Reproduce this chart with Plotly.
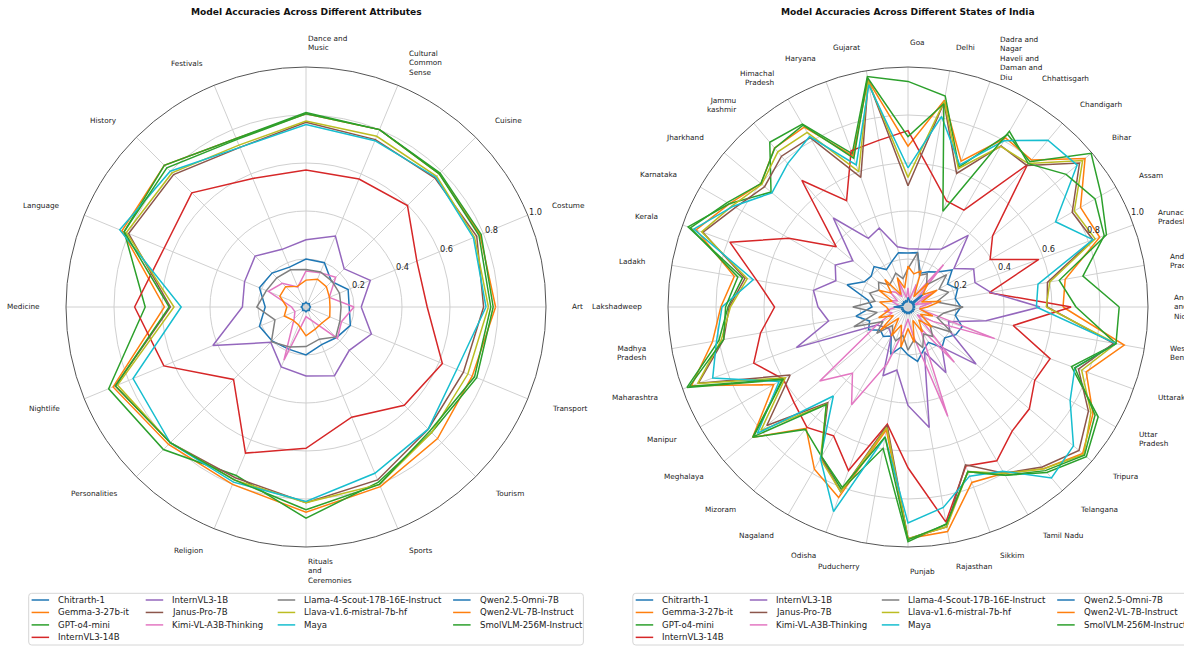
import math
import textwrap
import plotly.graph_objects as go

W, H = 1184, 646

models = ["Chitrarth-1", "Gemma-3-27b-it", "GPT-o4-mini", "InternVL3-14B", "InternVL3-1B",
          "Janus-Pro-7B", "Kimi-VL-A3B-Thinking", "Llama-4-Scout-17B-16E-Instruct",
          "Llava-v1.6-mistral-7b-hf", "Maya", "Qwen2.5-Omni-7B", "Qwen2-VL-7B-Instruct",
          "SmolVLM-256M-Instruct"]
colors = ["#1f77b4", "#ff7f0e", "#2ca02c", "#d62728", "#9467bd", "#8c564b", "#e377c2",
          "#7f7f7f", "#bcbd22", "#17becf", "#1f77b4", "#ff7f0e", "#2ca02c"]

attributes = ["Art", "Costume", "Cuisine", "Cultural Common Sense", "Dance and Music", "Festivals",
              "History", "Language", "Medicine", "Nightlife", "Personalities", "Religion",
              "Rituals and Ceremonies", "Sports", "Tourism", "Transport"]

states = ["Andaman and Nicobar", "Andhra Pradesh", "Arunachal Pradesh", "Assam", "Bihar", "Chandigarh",
          "Chhattisgarh", "Dadra and Nagar Haveli and Daman and Diu", "Delhi", "Goa", "Gujarat",
          "Haryana", "Himachal Pradesh", "Jammu kashmir", "Jharkhand", "Karnataka", "Kerala", "Ladakh",
          "Lakshadweep", "Madhya Pradesh", "Maharashtra", "Manipur", "Meghalaya", "Mizoram", "Nagaland",
          "Odisha", "Puducherry", "Punjab", "Rajasthan", "Sikkim", "Tamil Nadu", "Telangana", "Tripura",
          "Uttar Pradesh", "Uttarakhand", "West Bengal"]

radial_ticks = [0.2, 0.4, 0.6, 0.8, 1.0]

# ---- accuracy per attribute ----
attr_chitrarth = [0.18, 0.19, 0.15, 0.20, 0.20, 0.18, 0.20, 0.21, 0.17, 0.21, 0.20, 0.19, 0.20, 0.17, 0.18, 0.20]
attr_gemma = [0.79, 0.785, 0.785, 0.80, 0.805, 0.76, 0.835, 0.83, 0.59, 0.87, 0.81, 0.80, 0.855, 0.81, 0.775, 0.75]
attr_gpt = [0.78, 0.79, 0.79, 0.80, 0.81, 0.76, 0.835, 0.82, 0.67, 0.89, 0.84, 0.76, 0.88, 0.79, 0.74, 0.77]
attr_internvl14 = [0.505, 0.50, 0.598, 0.577, 0.571, 0.58, 0.673, 0.64, 0.714, 0.641, 0.427, 0.659, 0.589, 0.497, 0.579, 0.615]
attr_internvl1 = [0.23, 0.29, 0.225, 0.32, 0.28, 0.26, 0.30, 0.277, 0.265, 0.42, 0.208, 0.27, 0.287, 0.31, 0.255, 0.295]
attr_janus = [0.74, 0.77, 0.76, 0.755, 0.77, 0.72, 0.78, 0.80, 0.565, 0.86, 0.80, 0.77, 0.815, 0.78, 0.72, 0.71]
attr_kimi = [0.20, 0.105, 0.175, 0.155, 0.15, 0.09, 0.14, 0.17, 0.06, 0.05, 0.07, 0.24, 0.04, 0.06, 0.185, 0.16]
attr_llama = [0.146, 0.151, 0.153, 0.158, 0.156, 0.168, 0.172, 0.179, 0.205, 0.14, 0.204, 0.18, 0.165, 0.145, 0.176, 0.153]
attr_llava = [0.76, 0.76, 0.77, 0.77, 0.775, 0.73, 0.79, 0.81, 0.55, 0.85, 0.80, 0.78, 0.815, 0.80, 0.74, 0.73]
attr_maya = [0.75, 0.755, 0.765, 0.75, 0.76, 0.72, 0.80, 0.84, 0.52, 0.78, 0.80, 0.79, 0.81, 0.75, 0.72, 0.68]
attr_qwen_omni = [0.02, 0.015, 0.02, 0.015, 0.02, 0.015, 0.02, 0.015, 0.02, 0.015, 0.02, 0.015, 0.02, 0.015, 0.02, 0.015]
attr_qwen_vl = [0.10, 0.106, 0.12, 0.125, 0.112, 0.093, 0.12, 0.118, 0.08, 0.098, 0.077, 0.081, 0.12, 0.10, 0.094, 0.107]
attr_smolvlm = [0.77, 0.78, 0.785, 0.80, 0.805, 0.755, 0.82, 0.82, 0.57, 0.86, 0.80, 0.78, 0.845, 0.80, 0.73, 0.76]

# ---- accuracy per state ----
state_chitrarth = [0.22, 0.20, 0.22, 0.19, 0.24, 0.19, 0.17, 0.15, 0.23, 0.225, 0.23, 0.20, 0.18, 0.22, 0.20, 0.21,
                   0.27, 0.17, 0.15, 0.22, 0.17, 0.19, 0.15, 0.16, 0.14, 0.21, 0.17, 0.20, 0.23, 0.19, 0.17, 0.22,
                   0.20, 0.23, 0.24, 0.20]
state_gemma = [0.646, 0.665, 0.85, 0.83, 0.963, 0.80, 0.813, 0.647, 0.875, 0.67, 0.96, 0.67, 0.865, 0.865, 0.80, 0.86,
               0.94, 0.735, 0.78, 0.827, 0.96, 0.646, 0.845, 0.66, 0.78, 0.845, 0.52, 0.965, 0.95, 0.778, 0.80, 0.88,
               0.95, 0.89, 0.79, 0.915]
state_gpt = [0.70, 0.64, 0.88, 0.93, 0.996, 0.79, 0.83, 0.62, 0.893, 0.94, 0.975, 0.68, 0.88, 0.896, 0.745, 0.86,
             0.975, 0.70, 0.75, 0.80, 0.98, 0.606, 0.845, 0.666, 0.72, 0.81, 0.598, 0.978, 0.918, 0.73, 0.81, 0.90,
             0.97, 0.915, 0.725, 0.88]
state_internvl14 = [0.68, 0.344, 0.58, 0.395, 0.46, 0.775, 0.466, 0.47, 0.565, 0.735, 0.705, 0.693, 0.512, 0.688, 0.39,
                    0.573, 0.79, 0.64, 0.556, 0.624, 0.684, 0.60, 0.62, 0.655, 0.62, 0.725, 0.496, 0.67, 0.91, 0.705,
                    0.74, 0.675, 0.66, 0.61, 0.63, 0.445]
state_internvl1 = [0.55, 0.35, 0.297, 0.316, 0.25, 0.39, 0.279, 0.256, 0.245, 0.243, 0.255, 0.35, 0.33, 0.484, 0.30,
                   0.35, 0.32, 0.40, 0.375, 0.336, 0.495, 0.15, 0.13, 0.12, 0.14, 0.305, 0.267, 0.41, 0.51, 0.20,
                   0.316, 0.22, 0.37, 0.20, 0.18, 0.33]
state_janus = [0.58, 0.59, 0.82, 0.79, 0.933, 0.77, 0.775, 0.592, 0.865, 0.505, 0.955, 0.575, 0.815, 0.82, 0.78, 0.83,
               0.91, 0.69, 0.745, 0.78, 0.93, 0.567, 0.768, 0.52, 0.724, 0.82, 0.50, 0.965, 0.93, 0.70, 0.80, 0.87,
               0.93, 0.868, 0.756, 0.87]
state_kimi = [0.05, 0.10, 0.03, 0.12, 0.04, 0.23, 0.05, 0.10, 0.03, 0.08, 0.04, 0.12, 0.05, 0.08, 0.10, 0.05,
              0.08, 0.04, 0.05, 0.10, 0.07, 0.15, 0.48, 0.36, 0.47, 0.25, 0.10, 0.05, 0.12, 0.485, 0.10, 0.30,
              0.05, 0.12, 0.385, 0.05]
state_llama = [0.23, 0.12, 0.18, 0.15, 0.21, 0.12, 0.16, 0.14, 0.23, 0.16, 0.12, 0.15, 0.13, 0.12, 0.16, 0.14,
               0.17, 0.14, 0.23, 0.13, 0.24, 0.12, 0.17, 0.10, 0.13, 0.15, 0.12, 0.18, 0.14, 0.18, 0.13, 0.16,
               0.12, 0.21, 0.13, 0.15]
state_llava = [0.576, 0.60, 0.83, 0.80, 0.95, 0.78, 0.773, 0.614, 0.87, 0.54, 0.955, 0.60, 0.84, 0.844, 0.795, 0.845,
               0.915, 0.68, 0.74, 0.79, 0.933, 0.59, 0.80, 0.528, 0.73, 0.82, 0.51, 0.965, 0.93, 0.73, 0.80, 0.88,
               0.956, 0.88, 0.77, 0.88]
state_maya = [0.535, 0.55, 0.82, 0.71, 0.92, 0.907, 0.80, 0.63, 0.806, 0.58, 0.94, 0.63, 0.82, 0.78, 0.74, 0.84,
              0.95, 0.655, 0.775, 0.81, 0.866, 0.62, 0.819, 0.484, 0.73, 0.907, 0.55, 0.90, 0.848, 0.75, 0.79, 0.93,
              0.90, 0.78, 0.74, 0.88]
state_qwen_omni = [0.03, 0.02, 0.03, 0.02, 0.09, 0.02, 0.03, 0.02, 0.03, 0.04, 0.02, 0.03, 0.02, 0.03, 0.02, 0.03,
                   0.02, 0.03, 0.06, 0.02, 0.03, 0.02, 0.03, 0.02, 0.03, 0.02, 0.03, 0.02, 0.03, 0.02, 0.03, 0.02,
                   0.03, 0.02, 0.03, 0.02]
state_qwen_vl = [0.08, 0.14, 0.06, 0.14, 0.08, 0.13, 0.05, 0.16, 0.14, 0.17, 0.08, 0.13, 0.06, 0.15, 0.09, 0.14,
                 0.07, 0.12, 0.09, 0.08, 0.13, 0.07, 0.15, 0.06, 0.14, 0.08, 0.17, 0.09, 0.15, 0.06, 0.12, 0.07,
                 0.13, 0.06, 0.11, 0.05]
state_smolvlm = [0.88, 0.74, 0.87, 0.90, 0.86, 0.78, 0.845, 0.425, 0.86, 0.71, 0.97, 0.66, 0.875, 0.864, 0.80, 0.87,
                 0.965, 0.72, 0.76, 0.78, 0.97, 0.60, 0.84, 0.53, 0.72, 0.80, 0.55, 0.97, 0.92, 0.73, 0.81, 0.89,
                 0.96, 0.90, 0.74, 0.88]

attr_series = [attr_chitrarth, attr_gemma, attr_gpt, attr_internvl14, attr_internvl1, attr_janus, attr_kimi,
               attr_llama, attr_llava, attr_maya, attr_qwen_omni, attr_qwen_vl, attr_smolvlm]
state_series = [state_chitrarth, state_gemma, state_gpt, state_internvl14, state_internvl1, state_janus, state_kimi,
                state_llama, state_llava, state_maya, state_qwen_omni, state_qwen_vl, state_smolvlm]

FONT = "DejaVu Sans"
TEXT = "#222222"
GRID = "#d0d0d0"
R_PX = 240          # radius of the 1.0 circle in pixels
LABEL_R = 264       # where category labels are anchored
RLABEL_ANGLE = math.radians(22.5)
CY = 307
panels = [
    dict(name="polar", cx=306, title="Model Accuracies Across Different Attributes",
         cats=attributes, series=attr_series, legend_x=28.7),
    dict(name="polar2", cx=908, title="Model Accuracies Across Different States of India",
         cats=states, series=state_series, legend_x=632.8),
]


def fx(x):
    return x / W


def fy(y):
    return 1 - y / H


fig = go.Figure()
annotations = []
shapes = []
layout_polars = {}

for p in panels:
    cats = p["cats"]
    for name, color, vals in zip(models, colors, p["series"]):
        fig.add_trace(go.Scatterpolar(
            r=list(vals) + [vals[0]], theta=list(cats) + [cats[0]],
            mode="lines", name=name, subplot=p["name"], showlegend=False,
            line=dict(color=color, width=1.5), hoverinfo="skip"))

    cx = p["cx"]
    layout_polars[p["name"]] = dict(
        domain=dict(x=[fx(cx - R_PX), fx(cx + R_PX)], y=[fy(CY + R_PX), fy(CY - R_PX)]),
        bgcolor="white",
        angularaxis=dict(type="category", categoryarray=cats, rotation=0, direction="counterclockwise",
                         showticklabels=False, ticks="", showgrid=True, gridcolor=GRID, gridwidth=0.8,
                         showline=True, linecolor="#555555", linewidth=1),
        radialaxis=dict(range=[0, 1], tickvals=radial_ticks, showticklabels=False, angle=22.5,
                        showline=False, ticks="", showgrid=True, gridcolor=GRID, gridwidth=0.8),
    )

    # radial tick labels, sitting just outside each ring along 22.5 degrees
    for v in radial_ticks:
        d = v * R_PX + 8.5
        annotations.append(dict(
            x=fx(cx + d * math.cos(RLABEL_ANGLE)), y=fy(CY - d * math.sin(RLABEL_ANGLE)),
            xref="paper", yref="paper", showarrow=False, text=f"{v:.1f}",
            xanchor="center", yanchor="middle", font=dict(family=FONT, size=8.2, color=TEXT)))

    # panel title
    annotations.append(dict(x=fx(cx), y=fy(12), xref="paper", yref="paper", showarrow=False,
                            text=f"<b>{p['title']}</b>", xanchor="center", yanchor="middle",
                            font=dict(family=FONT, size=9.1, color="#111111")))

    # category labels around the circle
    n = len(cats)
    for i, c in enumerate(cats):
        th = 2 * math.pi * i / n
        co, si = math.cos(th), math.sin(th)
        left = round(co, 6) >= 0
        annotations.append(dict(
            x=fx(cx + LABEL_R * co), y=fy(CY - LABEL_R * si), xref="paper", yref="paper",
            showarrow=False, text="<br>".join(textwrap.wrap(c, 10, break_long_words=False)),
            xanchor="left" if left else "right", yanchor="middle", align="left" if left else "right",
            font=dict(family=FONT, size=7.3, color=TEXT)))

    # legend box with four columns
    bx = p["legend_x"]
    top, bottom, right = 593.3, 645.0, bx + 554.7
    rad = 3
    shapes.append(dict(
        type="path", xref="paper", yref="paper",
        path=(f"M {fx(bx + rad)},{fy(top)} L {fx(right - rad)},{fy(top)} "
              f"Q {fx(right)},{fy(top)} {fx(right)},{fy(top + rad)} L {fx(right)},{fy(bottom - rad)} "
              f"Q {fx(right)},{fy(bottom)} {fx(right - rad)},{fy(bottom)} L {fx(bx + rad)},{fy(bottom)} "
              f"Q {fx(bx)},{fy(bottom)} {fx(bx)},{fy(bottom - rad)} L {fx(bx)},{fy(top + rad)} "
              f"Q {fx(bx)},{fy(top)} {fx(bx + rad)},{fy(top)} Z"),
        line=dict(color="#d6d6d6", width=1), fillcolor="rgba(255,255,255,0.8)", layer="above"))
    col_offsets = [2.9, 117.0, 249.0, 424.4]
    col_of = [0, 0, 0, 0, 1, 1, 1, 2, 2, 2, 3, 3, 3]
    row_of = [0, 1, 2, 3, 0, 1, 2, 0, 1, 2, 0, 1, 2]
    for name, color, c, r in zip(models, colors, col_of, row_of):
        x0 = bx + col_offsets[c]
        yy = 600.0 + 12.45 * r
        shapes.append(dict(type="line", xref="paper", yref="paper", x0=fx(x0), x1=fx(x0 + 17.5),
                           y0=fy(yy), y1=fy(yy), line=dict(color=color, width=1.5), layer="above"))
        annotations.append(dict(x=fx(x0 + 24.5), y=fy(yy), xref="paper", yref="paper", showarrow=False,
                                text=name, xanchor="left", yanchor="middle",
                                font=dict(family=FONT, size=8.6, color=TEXT)))

fig.update_layout(
    width=W, height=H, margin=dict(l=0, r=0, t=0, b=0), paper_bgcolor="white",
    showlegend=False, annotations=annotations, shapes=shapes, **layout_polars)

fig.write_html("out.html")
